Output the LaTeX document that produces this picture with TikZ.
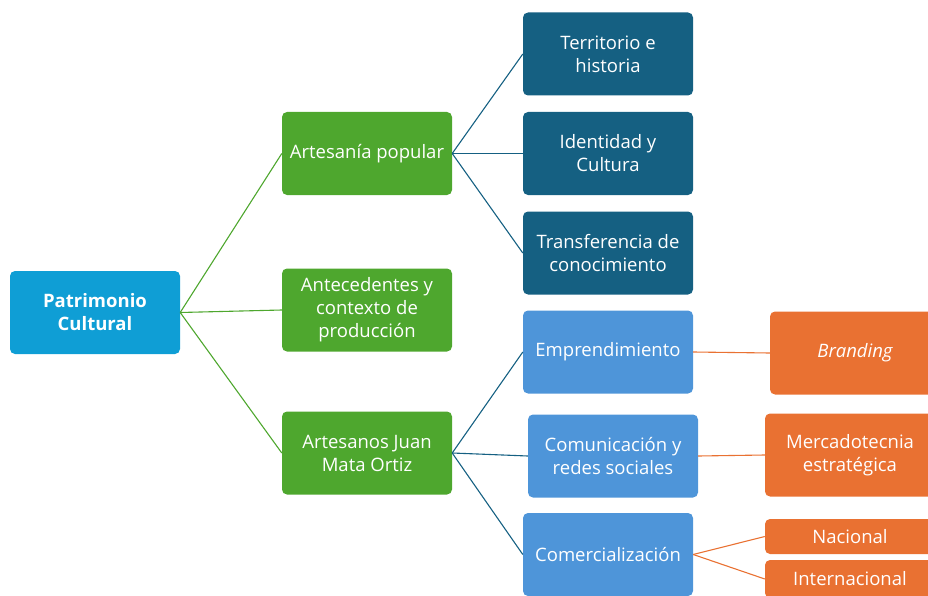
\documentclass[tikz,border=0pt]{standalone}
\usepackage{fontspec}
\setmainfont{Open Sans}
\usepackage{tikz}
\usetikzlibrary{positioning}
\definecolor{raiz}{HTML}{0F9ED5}
\definecolor{verde}{HTML}{4EA72E}
\definecolor{azuloscuro}{HTML}{156082}
\definecolor{azulclaro}{HTML}{4E95D9}
\definecolor{naranja}{HTML}{E97132}
\tikzset{%
	caja/.style     = {rectangle, rounded corners=5pt, minimum width=170pt, minimum height=83pt, text=white, align=center, font=\fontsize{18.5}{23}\selectfont, inner sep=2pt},
	raizbox/.style  = {caja, fill=raiz, font=\fontsize{18.5}{23}\selectfont\bfseries}, % root
	verdebox/.style = {caja, fill=verde},
	oscurobox/.style= {caja, fill=azuloscuro},
	clarobox/.style = {caja, fill=azulclaro},
	naranjabox/.style={caja, fill=naranja},
	rama/.style     = {line width=1.1pt},
}
\begin{document}
\begin{tikzpicture}[x=1pt,y=-1pt]
	\useasboundingbox (0,0) rectangle (928,596);
	\clip (0,0) rectangle (928,596);
	\node [raizbox] (pc) at (95,312.5) {Patrimonio\\Cultural};
	
	\node [verdebox] (ap) at (367,153.5) {Artesanía popular};
	\node [verdebox] (ac) at (367,310) {Antecedentes y\\contexto de\\producción};
	\node [verdebox] (aj) at (367,453) {Artesanos Juan\\Mata Ortiz};
	
	\node [oscurobox] (th) at (608,54) {Territorio e\\historia};
	\node [oscurobox] (ic) at (608,153.5) {Identidad y\\Cultura};
	\node [oscurobox] (tc) at (608,253) {Transferencia de\\conocimiento};
	
	\node [clarobox] (em) at (608,352) {Emprendimiento};
	\node [clarobox] (cr) at (613,456) {Comunicación y\\redes sociales};
	\node [clarobox] (co) at (608,554.5) {Comercialización};
	
	\node [naranjabox] (br) at (855,353) {\itshape Branding};
	\node [naranjabox] (me) at (850,455) {Mercadotecnia\\estratégica};
	\node [naranjabox,minimum height=35pt] (na) at (850,536.5) {Nacional};
	\node [naranjabox,minimum height=38pt] (in) at (850,579) {Internacional};
	
	% ramas
	\foreach \n in {ap,ac,aj}
		\draw[rama,verde] (pc.east) -- (\n.west);
	\foreach \n in {th,ic,tc}
		\draw[rama,azuloscuro] (ap.east) -- (\n.west);
	\foreach \n in {em,cr,co}
		\draw[rama,azuloscuro] (aj.east) -- (\n.west);
	\draw[rama,naranja] (em.east) -- (br.west);
	\draw[rama,naranja] (cr.east) -- (me.west);
	\draw[rama,naranja] (co.east) -- (na.west);
	\draw[rama,naranja] (co.east) -- (in.west);
\end{tikzpicture}
\end{document}
